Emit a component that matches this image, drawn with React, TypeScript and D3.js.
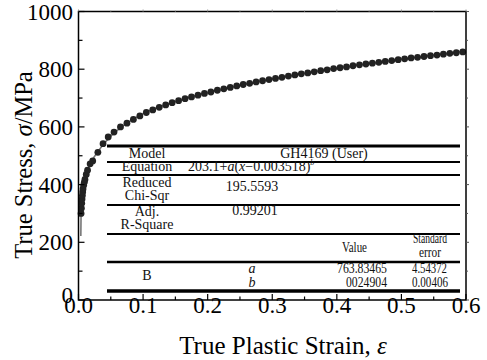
import React from 'react';
import * as d3 from 'd3';

// measured points (true plastic strain, true stress in MPa)
const strain = [
  0.004, 0.0045, 0.005, 0.0055, 0.006, 0.0065, 0.007, 0.008, 0.009, 0.010, 0.012, 0.014,
  0.018, 0.022, 0.030, 0.038, 0.046, 0.055, 0.065, 0.075, 0.085, 0.095, 0.105, 0.115,
  0.125, 0.135, 0.145, 0.155, 0.165, 0.175, 0.185, 0.195, 0.205, 0.215, 0.225, 0.235,
  0.245, 0.255, 0.265, 0.275, 0.285, 0.295, 0.305, 0.315, 0.325, 0.335, 0.345, 0.355,
  0.365, 0.375, 0.385, 0.395, 0.405, 0.415, 0.425, 0.435, 0.445, 0.455, 0.465, 0.475,
  0.485, 0.495, 0.505, 0.515, 0.525, 0.535, 0.545, 0.555, 0.565, 0.575, 0.585, 0.595,
];
const stress = [
  300, 318, 335, 350, 362, 374, 385, 398, 408, 418, 435, 450,
  472, 482, 512, 542, 565, 582, 600, 613, 626, 638, 650, 659,
  668, 676, 684, 691, 698, 704, 710, 716, 721, 727, 732, 737,
  742, 747, 751, 756, 760, 764, 768, 772, 776, 780, 784, 787,
  791, 795, 798, 802, 805, 808, 812, 815, 818, 821, 824, 827,
  830, 833, 836, 839, 841, 844, 847, 849, 852, 855, 857, 860,
];

// fitted curve
const fitStrain = [0.0036, 0.004, 0.005, 0.007, 0.01, 0.015, 0.02, 0.03, 0.04, 0.05, 0.07, 0.1,
  0.15, 0.2, 0.25, 0.3, 0.35, 0.4, 0.45, 0.5, 0.55, 0.6];
const fitStress = [222, 300, 340, 382, 418, 455, 480, 514, 543, 568, 605, 646,
  688, 719, 744, 766, 786, 804, 820, 835, 849, 863];

const xTicks = [0, 0.1, 0.2, 0.3, 0.4, 0.5, 0.6];
const xMinor = [0.05, 0.15, 0.25, 0.35, 0.45, 0.55];
const yTicks = [0, 200, 400, 600, 800, 1000];
const yMinor = [100, 300, 500, 700, 900];

const font = '"Liberation Serif", "Times New Roman", serif';

export default function App() {
  const left = 78.5, right = 466, top = 11.5, bottom = 300;
  const x = d3.scaleLinear().domain([0, 0.6]).range([left, right]);
  const y = d3.scaleLinear().domain([0, 1000]).range([bottom, top]);

  const fitLine = d3.line<number>()
    .x((d, i) => x(fitStrain[i]))
    .y(d => y(d))
    .curve(d3.curveMonotoneX)(fitStress);

  const tl = 107, tr = 460;
  const rules = [
    { y: 146, w: 3 }, { y: 162, w: 2 }, { y: 175, w: 2 }, { y: 205, w: 2 },
    { y: 234, w: 2 }, { y: 262, w: 2.5 }, { y: 291, w: 3.5 },
  ];
  const c1 = 147;
  // fixed-width cells of the parameter block
  const fit = (w: number) => ({ textLength: w, lengthAdjust: 'spacingAndGlyphs' as const });

  return (
    <svg width={487} height={360} style={{ position: 'absolute', left: 0, top: 0 }}
      fontFamily={font}>
      <rect width={487} height={360} fill="#fff" />

      {/* fit line + points */}
      <path d={fitLine || ''} fill="none" stroke="#777" strokeWidth={1.6} />
      {strain.map((s, i) => (
        <circle key={i} cx={x(s)} cy={y(stress[i])} r={3.4} fill="#222" />
      ))}

      {/* table */}
      {rules.map((r, i) => (
        <line key={i} x1={tl} x2={tr} y1={r.y} y2={r.y} stroke="#000" strokeWidth={r.w} />
      ))}
      <g fontSize={14} fill="#111" fontFamily={font}>
        <text x={c1} y={158} textAnchor="middle">Model</text>
        <text x={324} y={158} textAnchor="middle">GH4169 (User)</text>
        <text x={c1} y={171} textAnchor="middle">Equation</text>
        <text x={188} y={171}>203.1+<tspan fontStyle="italic">a</tspan>(<tspan fontStyle="italic">x</tspan>−0.003518)<tspan fontStyle="italic" fontSize={8} dy={-6}>b</tspan></text>
        <text x={c1} y={187} textAnchor="middle">Reduced</text>
        <text x={c1} y={200} textAnchor="middle">Chi-Sqr</text>
        <text x={252} y={191} textAnchor="middle">195.5593</text>
        <text x={c1} y={216} textAnchor="middle">Adj.</text>
        <text x={c1} y={229} textAnchor="middle">R-Square</text>
        <text x={255} y={215} textAnchor="middle">0.99201</text>
        <text x={342} y={252} {...fit(25)}>Value</text>
        <text x={413} y={243} {...fit(34)}>Standard</text>
        <text x={419} y={257} {...fit(22)}>error</text>
        <text x={c1} y={280} textAnchor="middle">B</text>
        <text x={252} y={273} textAnchor="middle" fontStyle="italic">a</text>
        <text x={252} y={287} textAnchor="middle" fontStyle="italic">b</text>
        <text x={337} y={273} {...fit(50)}>763.83465</text>
        <text x={346} y={287} {...fit(41)}>0024904</text>
        <text x={412} y={273} {...fit(35)}>4.54372</text>
        <text x={412} y={287} {...fit(36)}>0.00406</text>
      </g>

      {/* frame */}
      <rect x={left} y={top} width={right - left} height={bottom - top} fill="none" stroke="#000" strokeWidth={1.5} />

      {/* x ticks */}
      {xTicks.map(t => (
        <g key={'x' + t}>
          <line x1={x(t)} x2={x(t)} y1={bottom} y2={bottom - 6} stroke="#000" strokeWidth={1.2} />
          <line x1={x(t)} x2={x(t)} y1={top} y2={top - 2} stroke="#999" strokeWidth={1} />
          <text x={x(t)} y={313} textAnchor="middle" fontSize={23} fontFamily={font}>{t.toFixed(1)}</text>
        </g>
      ))}
      {xMinor.map(t => (
        <g key={'xm' + t}>
          <line x1={x(t)} x2={x(t)} y1={bottom} y2={bottom - 3.5} stroke="#000" strokeWidth={1.2} />
          <line x1={x(t)} x2={x(t)} y1={top} y2={top - 1.5} stroke="#aaa" strokeWidth={1} />
        </g>
      ))}

      {/* y ticks */}
      {yTicks.map(t => (
        <g key={'y' + t}>
          <line x1={left} x2={left + 6} y1={y(t)} y2={y(t)} stroke="#000" strokeWidth={1.2} />
          <line x1={right} x2={right + 3} y1={y(t)} y2={y(t)} stroke="#555" strokeWidth={1} />
          <text x={73} y={y(t)} dy={t === 0 ? '0.15em' : '0.35em'} textAnchor="end" fontSize={23} fontFamily={font}>{t}</text>
        </g>
      ))}
      {yMinor.map(t => (
        <g key={'ym' + t}>
          <line x1={left} x2={left + 4} y1={y(t)} y2={y(t)} stroke="#000" strokeWidth={1.2} />
          <line x1={right} x2={right + 2} y1={y(t)} y2={y(t)} stroke="#555" strokeWidth={1} />
        </g>
      ))}

      {/* axis titles */}
      <text x={283} y={354} textAnchor="middle" fontSize={25} fontFamily={font}>
        True Plastic Strain, <tspan fontStyle="italic">ε</tspan>
      </text>
      <text transform="translate(32,165) rotate(-90)" textAnchor="middle" fontSize={24.5} fontFamily={font}>
        True Stress, <tspan fontStyle="italic">σ</tspan>/MPa
      </text>
    </svg>
  );
}
